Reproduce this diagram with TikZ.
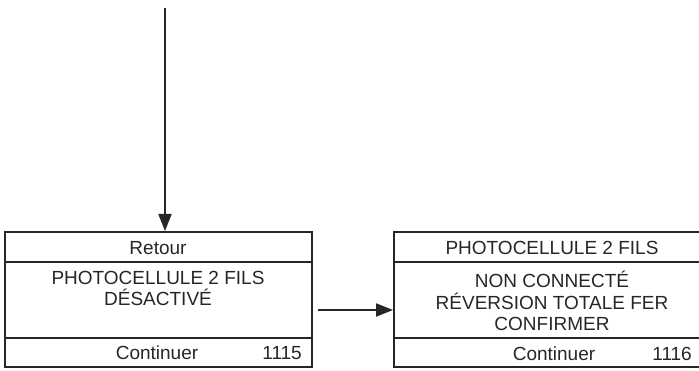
\documentclass[tikz,border=0pt]{standalone}
\usepackage{fontspec}
\setmainfont{Liberation Sans}
\usetikzlibrary{arrows.meta}
\begin{document}
\begin{tikzpicture}[x=1pt,y=-1pt,
  box/.style={draw=black!85, line width=1.5pt},
  txt/.style={inner sep=0pt, font=\fontsize{19}{21.5}\selectfont, text=black!85},
  multi/.style={txt, align=center, anchor=north},
  conn/.style={draw=black!85, line width=1.8pt, -{Triangle[length=17pt,width=13pt]}}]
\clip (0,0) rectangle (699,371);
\useasboundingbox (0,0) rectangle (699,371);
% left box
\draw[box] (5,232) rectangle (312,367);
\draw[box] (5,262) -- (312,262);
\draw[box] (5,338) -- (312,338);
\coordinate (Ltop) at (165,231);
\coordinate (Lright) at (318,310);
\node[txt] (lr) at (158,248) {Retour};
\node[multi] (lm) at (158,271) {PHOTOCELLULE 2 FILS\\DÉSACTIVÉ};
\node[txt] (lc) at (157,353) {Continuer};
\node[txt, anchor=east] (ln) at (302,353) {1115};
% right box
\draw[box] (394,232) rectangle (708,367);
\draw[box] (394,262) -- (708,262);
\draw[box] (394,338) -- (708,338);
\coordinate (Rleft) at (393,310);
\node[txt] (rt) at (552,248) {PHOTOCELLULE 2 FILS};
\node[multi] (rm) at (552,271) {NON CONNECTÉ\\RÉVERSION TOTALE FER\\CONFIRMER};
\node[txt] (rc) at (554,354) {Continuer};
\node[txt, anchor=east] (rn) at (692,354) {1116};
% connectors
\coordinate (start) at (165,8);
\draw[conn] (start) -- (Ltop);
\draw[conn] (Lright) -- (Rleft);
\end{tikzpicture}
\end{document}
